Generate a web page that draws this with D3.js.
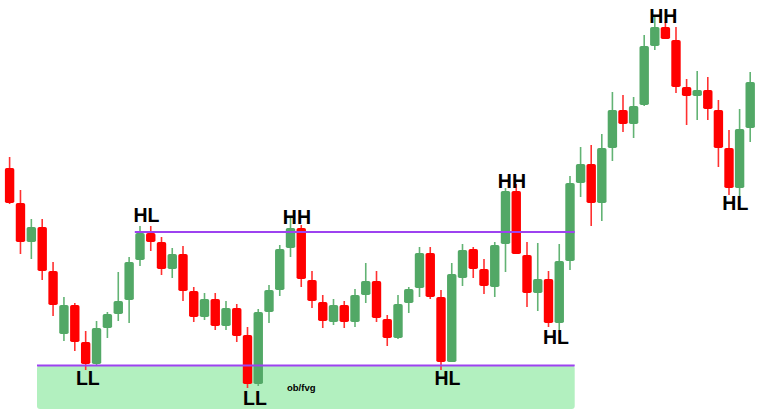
<!DOCTYPE html>
<html>
<head>
<meta charset="utf-8">
<script src="https://cdn.jsdelivr.net/npm/d3@7"></script>
<style>
  html, body { margin: 0; padding: 0; background: #ffffff; }
  svg { display: block; }
</style>
</head>
<body>
<svg id="chart" width="763" height="413"></svg>
<script>
// ---- data (price units) ----
const openPrices  = [252,217,178,193,149,86,115,78,56,92,106,120,160,187,178,151,166,129,103,121,94,112,85,36,108,130,172,192,140,118,98,115,98,125,139,101,82,117,132,167,123,58,142,171,151,133,176,229,165,127,141,97,159,237,256,217,272,310,296,315,374,393,380,333,324,330,310,272,232,292];
const highPrices  = [263,230,201,201,158,123,117,89,99,108,148,163,194,194,183,172,174,133,127,127,119,116,93,111,135,175,202,195,149,125,121,119,131,157,149,105,125,133,173,173,130,157,176,173,161,178,232,236,178,177,149,176,244,273,275,286,328,325,323,385,405,398,393,341,349,343,320,290,311,348];
const lowPrices   = [216,166,161,140,104,79,69,50,55,82,99,97,154,169,145,142,119,98,100,90,90,78,32,34,97,124,163,133,112,92,95,92,93,117,98,74,81,107,123,121,50,58,134,142,126,123,148,166,113,109,93,90,150,223,194,199,259,288,282,314,370,381,327,295,300,300,253,225,223,278];
const closePrices = [217,178,193,149,115,115,78,56,92,106,119,158,187,178,151,166,129,103,121,94,112,84,36,108,130,171,192,141,119,99,115,98,125,139,102,82,116,131,167,123,58,146,170,151,134,175,229,166,127,141,97,159,237,256,217,272,310,296,314,374,393,381,333,324,330,311,272,232,291,338];

// horizontal levels: price, first candle index, last candle index
const levelPrices = [188, 54.5];
const levelStart  = [12, 3];
const levelEnd    = [52, 52];
// demand zone (ob/fvg)
const zoneTop = 54.5, zoneBottom = 11, zoneStart = 3, zoneEnd = 52;

// annotations: text, candle index (fractional), price of text baseline
const labelTexts  = ["HL", "LL", "HH", "LL", "HL", "HH", "HL", "HH", "HL"];
const labelIndex  = [12.6, 7.2, 26.6, 22.7, 40.6, 46.6, 50.7, 60.8, 67.6];
const labelPrice  = [198, 35.5, 196, 15, 35, 232, 76, 397.5, 210];
const noteText = "ob/fvg", noteIndex = 27.0, notePrice = 29.5;

// ---- drawing ----
const W = 763, H = 413;
const svg = d3.select("#chart");
const n = openPrices.length;
const candles = d3.range(n).map(i => ({
  i, o: openPrices[i], h: highPrices[i], l: lowPrices[i], c: closePrices[i]
}));

const x = d3.scaleLinear().domain([0, 12, 52, n - 1]).range([9.6, 140, 570, 750.2]);
const y = d3.scaleLinear().domain([7, 420]).range([H, 0]);
const bodyW = 9.4;

const GREEN = "#52a866", RED = "#ff0000";
const PURPLE = "#9d42f0";

// zone
svg.append("rect")
  .attr("x", x(zoneStart) - bodyW / 2 - 0.5)
  .attr("y", y(zoneTop))
  .attr("width", (x(zoneEnd) + bodyW / 2) - (x(zoneStart) - bodyW / 2) + 0.5)
  .attr("height", y(zoneBottom) - y(zoneTop))
  .attr("rx", 3)
  .attr("fill", "#b2f0bf");

// candles
const g = svg.append("g");
g.selectAll("line.wick").data(candles).join("line")
  .attr("class", "wick")
  .attr("x1", d => x(d.i)).attr("x2", d => x(d.i))
  .attr("y1", d => y(d.h)).attr("y2", d => y(d.l))
  .attr("stroke", d => d.c >= d.o ? "#62b374" : "#ff3030")
  .attr("stroke-width", 1.6);
g.selectAll("rect.body").data(candles).join("rect")
  .attr("class", "body")
  .attr("x", d => x(d.i) - bodyW / 2)
  .attr("y", d => y(Math.max(d.o, d.c)))
  .attr("width", bodyW)
  .attr("height", d => Math.max(1.5, Math.abs(y(d.o) - y(d.c))))
  .attr("rx", 1.8)
  .attr("fill", d => d.c >= d.o ? GREEN : RED);

// levels
levelPrices.forEach((p, k) => {
  svg.append("line")
    .attr("x1", x(levelStart[k]) - bodyW / 2 - 0.5)
    .attr("x2", x(levelEnd[k]) + bodyW / 2)
    .attr("y1", y(p)).attr("y2", y(p))
    .attr("stroke", PURPLE)
    .attr("stroke-width", 2.2);
});

// labels
labelTexts.forEach((t, k) => {
  svg.append("text")
    .attr("x", x(labelIndex[k]))
    .attr("y", y(labelPrice[k]))
    .attr("text-anchor", "middle")
    .attr("font-family", "'Liberation Sans', Arial, sans-serif")
    .attr("font-weight", "bold")
    .attr("font-size", 19.5)
    .attr("fill", "#000")
    .text(t);
});
svg.append("text")
  .attr("x", x(noteIndex))
  .attr("y", y(notePrice))
  .attr("text-anchor", "middle")
  .attr("font-family", "'Liberation Sans', Arial, sans-serif")
  .attr("font-weight", "bold")
  .attr("font-size", 9.5)
  .attr("fill", "#000")
  .text(noteText);
</script>
</body>
</html>
